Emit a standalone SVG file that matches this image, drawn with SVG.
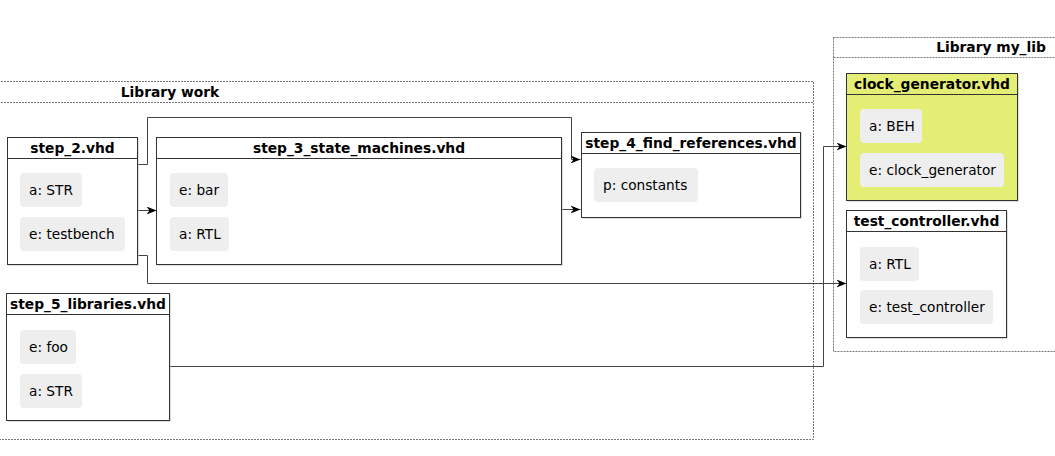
<svg xmlns="http://www.w3.org/2000/svg" width="1055" height="456" viewBox="0 0 1055 456">
<style>
text{font-family:"DejaVu Sans",sans-serif;font-size:13.7px;fill:#000}
.t{font-weight:bold;text-anchor:middle;font-size:13.8px}
.lib{fill:none;stroke:#777;stroke-width:1;stroke-dasharray:2 1}
.node{fill:#fff;stroke:#333;stroke-width:1}
.shadow{fill:#bbb}
.sep{stroke:#333;stroke-width:1}
.item{fill:#eeeeee;stroke:none}
.edge{fill:none;stroke:#444;stroke-width:1}
</style>
<defs>
<marker id="arr" viewBox="0 0 10 8" refX="10" refY="4" markerWidth="10" markerHeight="8" markerUnits="userSpaceOnUse" orient="auto">
<path d="M0,0 L10,4 L0,8 L3,4 Z" fill="#000"/>
</marker>
</defs>
<rect width="1055" height="456" fill="#fff"/>
<g id="lib_work">
<rect class="lib" x="-20" y="81.5" width="833.5" height="358"/>
<line class="lib" x1="-20" y1="102.5" x2="813.5" y2="102.5"/>
<text class="t" x="170" y="96.5">Library work</text>
</g>
<g id="lib_my_lib">
<rect class="lib" x="833.5" y="37.5" width="260" height="314"/>
<line class="lib" x1="833.5" y1="57.5" x2="1093.5" y2="57.5"/>
<text class="t" x="991" y="52">Library my_lib</text>
</g>
<g id="connectors">
<polyline class="edge" points="137.5,164.5 147.5,164.5 147.5,117.5 571.5,117.5 571.5,159.5 580.5,159.5" marker-end="url(#arr)"/>
<line class="edge" x1="137.5" y1="210.5" x2="156.5" y2="210.5" marker-end="url(#arr)"/>
<line class="edge" x1="562" y1="209.5" x2="580.5" y2="209.5" marker-end="url(#arr)"/>
<polyline class="edge" points="137.5,255.5 147.5,255.5 147.5,283.5 846.5,283.5" marker-end="url(#arr)"/>
<polyline class="edge" points="169.5,366.5 823.5,366.5 823.5,146.5 846.5,146.5" marker-end="url(#arr)"/>
</g>
<g id="step_2">
<rect class="shadow" x="8.5" y="138.5" width="130" height="127"/>
<rect class="node" x="7.5" y="137.5" width="130" height="127"/>
<line class="sep" x1="7.5" y1="158.5" x2="137.5" y2="158.5"/>
<text class="t" x="72.5" y="152.5">step_2.vhd</text>
<rect class="item" x="20" y="173" width="62" height="34" rx="4"/>
<text x="29" y="194.5">a: STR</text>
<rect class="item" x="20" y="217" width="105" height="34" rx="4"/>
<text x="29" y="238.5">e: testbench</text>
</g>
<g id="step_3">
<rect class="shadow" x="157.5" y="138.5" width="405" height="127"/>
<rect class="node" x="156.5" y="137.5" width="405" height="127"/>
<line class="sep" x1="156.5" y1="158.5" x2="561.5" y2="158.5"/>
<text class="t" x="359" y="152.5">step_3_state_machines.vhd</text>
<rect class="item" x="170" y="173" width="58" height="34" rx="4"/>
<text x="179" y="194.5">e: bar</text>
<rect class="item" x="170" y="217" width="59" height="34" rx="4"/>
<text x="179" y="238.5">a: RTL</text>
</g>
<g id="step_4">
<rect class="shadow" x="582.5" y="133.5" width="219" height="85"/>
<rect class="node" x="581.5" y="132.5" width="219" height="85"/>
<line class="sep" x1="581.5" y1="153.5" x2="800.5" y2="153.5"/>
<text class="t" x="691" y="147.5">step_4_find_references.vhd</text>
<rect class="item" x="594" y="168" width="104" height="34" rx="4"/>
<text x="603" y="189.5">p: constants</text>
</g>
<g id="step_5">
<rect class="shadow" x="7.5" y="294.5" width="163" height="127"/>
<rect class="node" x="6.5" y="293.5" width="163" height="127"/>
<line class="sep" x1="6.5" y1="314.5" x2="169.5" y2="314.5"/>
<text class="t" x="88" y="308.5">step_5_libraries.vhd</text>
<rect class="item" x="20" y="330" width="56" height="34" rx="4"/>
<text x="29" y="351.5">e: foo</text>
<rect class="item" x="20" y="374" width="62" height="34" rx="4"/>
<text x="29" y="395.5">a: STR</text>
</g>
<g id="clock_generator">
<rect class="shadow" x="847.5" y="74.5" width="171" height="127"/>
<rect class="node" x="846.5" y="73.5" width="171" height="127" style="fill:#e5ee74"/>
<line class="sep" x1="846.5" y1="94.5" x2="1017.5" y2="94.5"/>
<text class="t" x="932" y="88.5">clock_generator.vhd</text>
<rect class="item" x="860" y="109" width="62" height="34" rx="4"/>
<text x="869" y="130.5">a: BEH</text>
<rect class="item" x="860" y="153" width="144" height="34" rx="4"/>
<text x="869" y="174.5">e: clock_generator</text>
</g>
<g id="test_controller">
<rect class="shadow" x="847.5" y="211.5" width="160" height="127"/>
<rect class="node" x="846.5" y="210.5" width="160" height="127"/>
<line class="sep" x1="846.5" y1="231.5" x2="1006.5" y2="231.5"/>
<text class="t" x="926.5" y="225.5">test_controller.vhd</text>
<rect class="item" x="860" y="247" width="59" height="34" rx="4"/>
<text x="869" y="268.5">a: RTL</text>
<rect class="item" x="860" y="290" width="133" height="34" rx="4"/>
<text x="869" y="311.5">e: test_controller</text>
</g>
</svg>
